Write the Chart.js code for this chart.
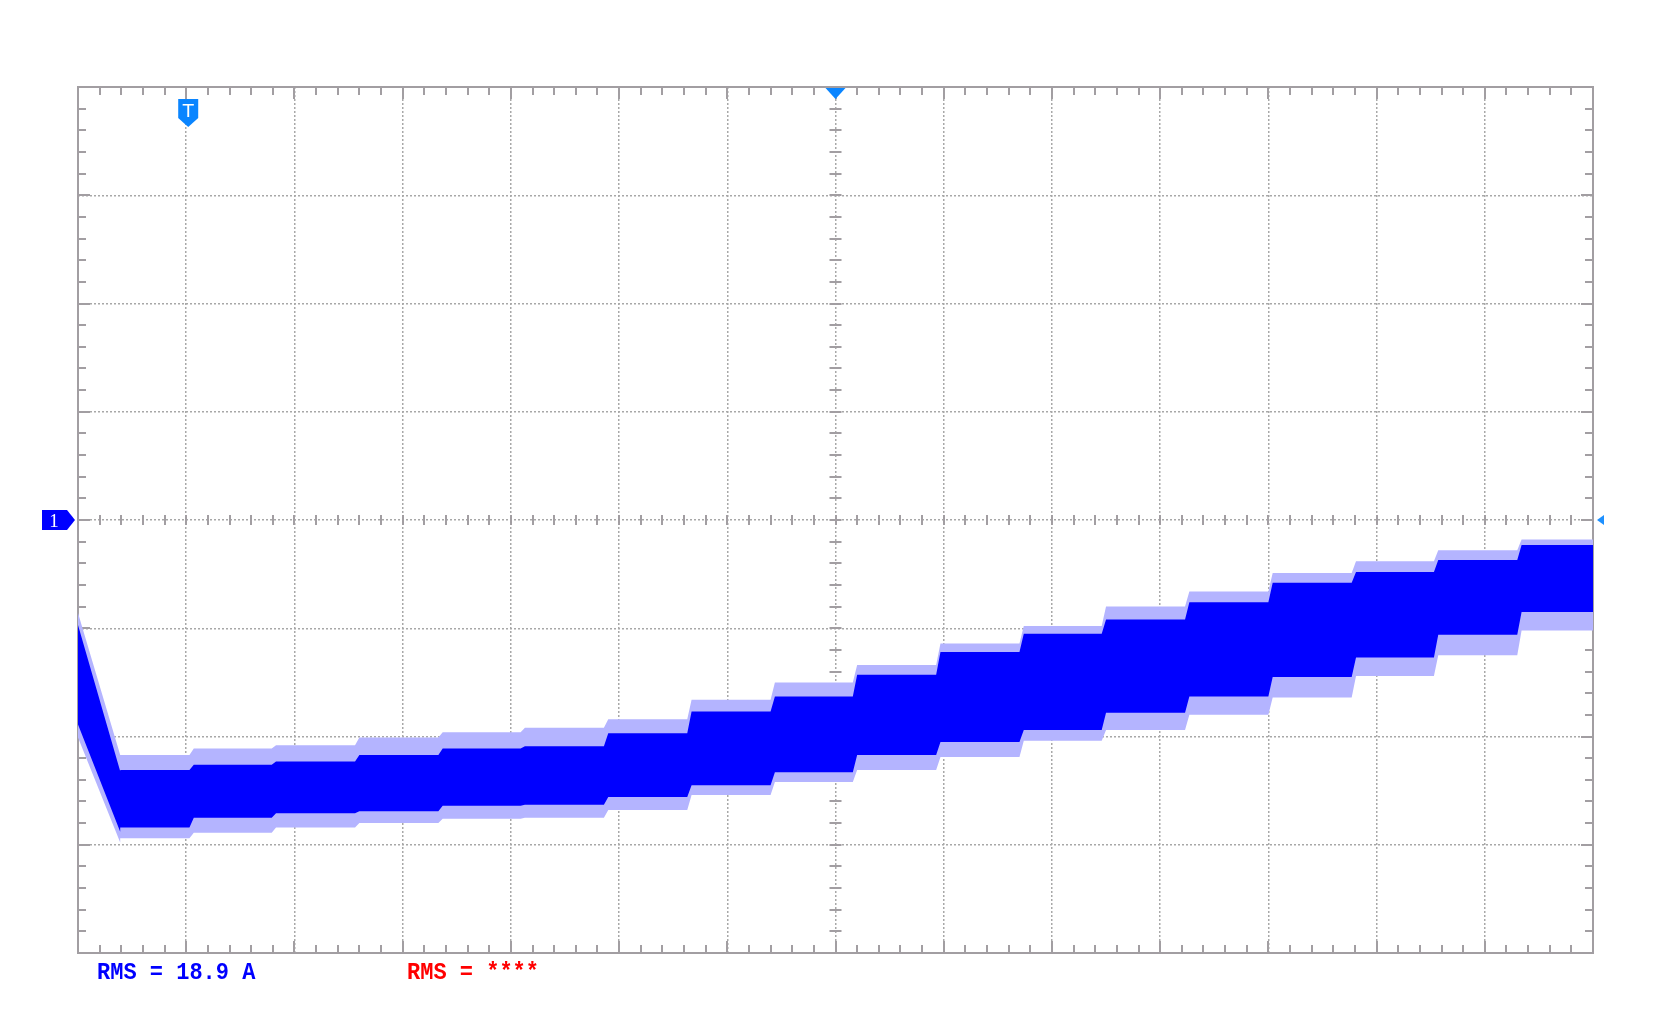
<!DOCTYPE html>
<html lang="en">
<head>
<meta charset="UTF-8">
<script src="https://cdn.jsdelivr.net/npm/chart.js"></script>
<title>Scope capture</title>
<style>
  html, body { margin: 0; padding: 0; background: #fff; }
</style>
</head>
<body>
<canvas id="scope" width="1659" height="1035"></canvas>
<script>
// screen is 14 x 8 divisions; all values in divisions, 0 = centre line
const stepStart = [0.39, 1.03, 1.79, 2.56, 3.33, 4.09, 4.86, 5.63, 6.40, 7.16, 7.93, 8.70, 9.46, 10.23, 11.00, 11.77, 12.53, 13.30];
const endTime = 14;

// falling edge at the start of the record (start, end)
const rampTime = [0, 0.39];
const rampHaloTop = [-0.86, -2.17];
const rampCoreTop = [-0.97, -2.32];
const rampCoreBottom = [-1.89, -2.88];
const rampHaloBottom = [-2.01, -2.98];

// one value per step
const haloTop = [-2.17, -2.11, -2.08, -2.01, -1.96, -1.92, -1.84, -1.66, -1.50, -1.34, -1.14, -0.98, -0.80, -0.66, -0.49, -0.38, -0.28, -0.18];
const coreTop = [-2.31, -2.26, -2.23, -2.17, -2.11, -2.09, -1.97, -1.77, -1.63, -1.43, -1.22, -1.05, -0.92, -0.76, -0.58, -0.48, -0.37, -0.23];
const coreBottom = [-2.84, -2.75, -2.71, -2.69, -2.64, -2.63, -2.56, -2.45, -2.33, -2.17, -2.05, -1.94, -1.78, -1.63, -1.45, -1.27, -1.06, -0.85];
const haloBottom = [-2.94, -2.89, -2.84, -2.80, -2.76, -2.75, -2.68, -2.54, -2.42, -2.31, -2.19, -2.04, -1.94, -1.80, -1.64, -1.44, -1.25, -1.02];

const measA = 'RMS = 18.9 A';
const measB = 'RMS = ****';

const lean = 0.04; // rising edges are not quite vertical on screen

function trace(ramp, steps) {
    const pts = rampTime.map((t, i) => ({ x: t, y: ramp[i] }));
    steps.forEach((v, i) => {
        const t1 = i + 1 < stepStart.length ? stepStart[i + 1] : endTime;
        pts.push({ x: stepStart[i] + (i ? lean : 0), y: v }, { x: t1, y: v });
    });
    return pts;
}

const GRAY = '#a29ea2';
const CURSOR = '#0a85ff';

// frame + minor ticks, drawn under the trace
const scopeFrame = {
    id: 'scopeFrame',
    beforeDatasetsDraw(chart) {
        const { ctx, chartArea: a, scales: { x, y } } = chart;
        const cx = x.getPixelForValue(7), cy = y.getPixelForValue(0);
        ctx.save();
        ctx.strokeStyle = GRAY;
        ctx.lineWidth = 2;
        ctx.strokeRect(a.left, a.top, a.right - a.left, a.bottom - a.top);
        ctx.beginPath();
        for (let i = 1; i < 70; i++) {
            const px = Math.round(x.getPixelForValue(i / 5));
            const len = i % 5 === 0 ? 12 : 8;
            ctx.moveTo(px, a.top); ctx.lineTo(px, a.top + len);
            ctx.moveTo(px, a.bottom); ctx.lineTo(px, a.bottom - len);
            ctx.moveTo(px, cy - 5); ctx.lineTo(px, cy + 5);
        }
        for (let j = 1; j < 40; j++) {
            const py = Math.round(y.getPixelForValue(-4 + j / 5));
            const len = j % 5 === 0 ? 12 : 8;
            ctx.moveTo(a.left, py); ctx.lineTo(a.left + len, py);
            ctx.moveTo(a.right, py); ctx.lineTo(a.right - len, py);
            ctx.moveTo(cx - 6, py); ctx.lineTo(cx + 6, py);
        }
        ctx.stroke();
        ctx.restore();
    }
};

// cursors, channel marker and the measurement readouts
const scopeMarks = {
    id: 'scopeMarks',
    afterDraw(chart) {
        const { ctx, chartArea: a, scales: { x, y } } = chart;
        const cy = y.getPixelForValue(0);
        ctx.save();

        // trigger position "T"
        const tx = x.getPixelForValue(1) + 2;
        ctx.fillStyle = CURSOR;
        ctx.beginPath();
        ctx.moveTo(tx - 10, 99); ctx.lineTo(tx + 10, 99); ctx.lineTo(tx + 10, 118);
        ctx.lineTo(tx, 127); ctx.lineTo(tx - 10, 118); ctx.closePath();
        ctx.fill();
        ctx.fillStyle = '#ffffff';
        ctx.font = '18px "DejaVu Sans"';
        ctx.textAlign = 'center';
        ctx.textBaseline = 'alphabetic';
        ctx.fillText('T', tx, 117);

        // horizontal position arrow
        const hx = x.getPixelForValue(7);
        ctx.fillStyle = CURSOR;
        ctx.beginPath();
        ctx.moveTo(hx - 10, a.top + 1); ctx.lineTo(hx + 10, a.top + 1); ctx.lineTo(hx, a.top + 12);
        ctx.closePath(); ctx.fill();

        // channel 1 ground marker
        ctx.fillStyle = '#0000ff';
        ctx.beginPath();
        ctx.moveTo(42, cy - 10); ctx.lineTo(67, cy - 10); ctx.lineTo(75, cy);
        ctx.lineTo(67, cy + 10); ctx.lineTo(42, cy + 10); ctx.closePath();
        ctx.fill();
        ctx.fillStyle = '#ffffff';
        ctx.font = '19px "Liberation Serif"';
        ctx.fillText('1', 54, cy + 7);

        // trigger level arrow on the right
        ctx.fillStyle = '#1e90ff';
        ctx.beginPath();
        ctx.moveTo(a.right + 4, cy); ctx.lineTo(a.right + 11, cy - 5); ctx.lineTo(a.right + 11, cy + 5);
        ctx.closePath(); ctx.fill();

        // readouts
        ctx.textAlign = 'left';
        ctx.font = 'bold 22px "Liberation Mono"';
        ctx.translate(0, 979);
        ctx.scale(1, 1.12);
        ctx.fillStyle = '#0000ff';
        ctx.fillText(measA, 97, 0);
        ctx.fillStyle = '#ff0000';
        ctx.fillText(measB, 407, 0);
        ctx.restore();
    }
};

const flat = { borderWidth: 0, pointRadius: 0, tension: 0 };

new Chart(document.getElementById('scope'), {
    type: 'line',
    data: {
        datasets: [
            { label: 'core top', data: trace(rampCoreTop, coreTop), fill: 1, backgroundColor: '#0000ff', ...flat },
            { label: 'core bottom', data: trace(rampCoreBottom, coreBottom), fill: false, ...flat },
            { label: 'halo top', data: trace(rampHaloTop, haloTop), fill: 3, backgroundColor: '#b4b4ff', ...flat },
            { label: 'halo bottom', data: trace(rampHaloBottom, haloBottom), fill: false, ...flat }
        ]
    },
    options: {
        responsive: false,
        animation: false,
        layout: { padding: { left: 78, right: 66, top: 87, bottom: 82 } },
        scales: {
            x: {
                type: 'linear', min: 0, max: 14,
                ticks: { display: false, stepSize: 1 },
                grid: { color: '#a8a8a8', lineWidth: 1.5, drawTicks: false },
                border: { display: false, dash: [2, 2] }
            },
            y: {
                type: 'linear', min: -4, max: 4,
                ticks: { display: false, stepSize: 1 },
                grid: { color: '#a8a8a8', lineWidth: 1.5, drawTicks: false },
                border: { display: false, dash: [2, 2] }
            }
        },
        plugins: {
            legend: { display: false },
            tooltip: { enabled: false }
        }
    },
    plugins: [scopeFrame, scopeMarks]
});
</script>
</body>
</html>
